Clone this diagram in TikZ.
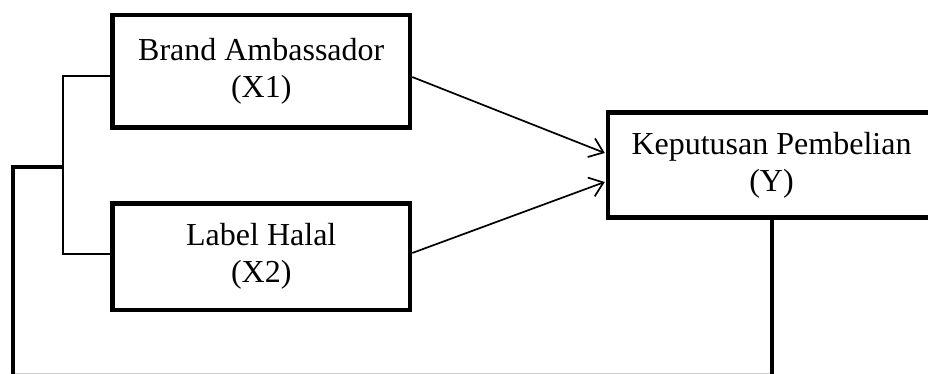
\documentclass[tikz,border=0pt]{standalone}
\usepackage{fontspec}
\setmainfont{Liberation Serif}
\usetikzlibrary{arrows.meta,calc}
\begin{document}
\begin{tikzpicture}[x=1pt,y=-1pt,
  varbox/.style={draw,line width=4.5pt,align=center,inner sep=0pt,
    font=\fontsize{32}{37}\selectfont},
  link/.style={line width=1.7pt},
  arr/.style={link,-{Straight Barb[length=13pt,width=20pt,line width=1.7pt]}},
  frame/.style={line width=4.5pt,line join=miter}]
\useasboundingbox (0,0) rectangle (928,374);
\clip (0,0) rectangle (928,374);
\node[varbox,minimum width=297.5pt,minimum height=112.5pt] (x1) at (261.25,71.25) {Brand Ambassador\\(X1)};
\node[varbox,minimum width=297.5pt,minimum height=106.5pt] (x2) at (261.25,256.75) {Label Halal\\(X2)};
\node[varbox,minimum width=327pt,minimum height=105pt] (y) at (771.5,165) {Keputusan Pembelian\\(Y)};
\coordinate (j) at (63,167);
\draw[arr] ($(x1.east)+(0,5.75)$) -- ($(y.west)+(-1,-12)$);
\draw[arr] ($(x2.east)+(0,-3.75)$) -- ($(y.west)+(-1,17)$);
\draw[link] ($(x1.west)+(0,4.75)$) -| (j) |- ($(x2.west)+(0,-2.75)$);
\draw[frame] (j) -- (13,167) -- (13,385) -- (772,385) -- (y.south -| 772,0);
\draw[gray!40,line width=1pt] (15,373.5) -- (770,373.5);
\end{tikzpicture}
\end{document}
